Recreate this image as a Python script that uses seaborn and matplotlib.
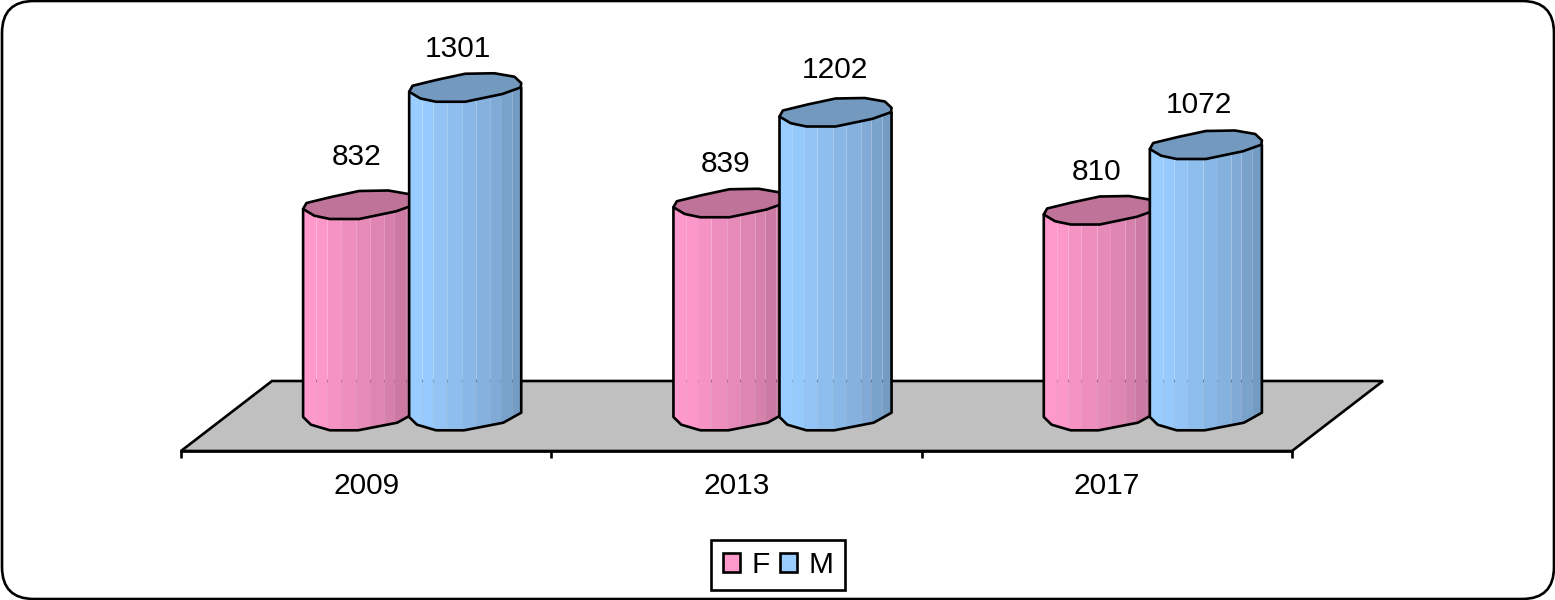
import matplotlib
matplotlib.use("Agg")
import matplotlib.pyplot as plt
import numpy as np
import pandas as pd
import seaborn as sns
from matplotlib.patches import FancyBboxPatch, Patch, Polygon, Rectangle

# Data
years = ["2009", "2013", "2017"]
f_values = [832, 839, 810]
m_values = [1301, 1202, 1072]
# the value labels were moved by hand in the original
label_lift = [[52, 43, 42], [43, 46, 44]]
label_shift = [[-1, -2, -2], [-9, -2, -8]]

df = pd.DataFrame({
    "year": years * 2,
    "sex": ["F"] * 3 + ["M"] * 3,
    "count": f_values + m_values,
})

W, H = 1555, 600
sns.set_theme(style="white")
plt.rcParams["font.family"] = ["Liberation Sans", "DejaVu Sans"]
FS = 21.5
LW = 1.9

fig = plt.figure(figsize=(W / 100, H / 100), dpi=100, facecolor="white")


def px_axes(x0, y_top, x1, y_bottom, zorder):
    a = fig.add_axes([x0 / W, 1 - y_bottom / H, (x1 - x0) / W, (y_bottom - y_top) / H], zorder=zorder)
    a.patch.set_alpha(0)
    return a


# Frame and grey floor, in pixel coordinates
bg = px_axes(0, 0, W, H, 0)
bg.set_xlim(0, W)
bg.set_ylim(H, 0)
bg.axis("off")
bg.add_patch(FancyBboxPatch((34, 33), W - 67, H - 66, boxstyle="round,pad=32,rounding_size=32",
                            fc="white", ec="black", lw=LW, clip_on=False))
bg.add_patch(Polygon([(181, 451), (272, 381), (1383, 381), (1292, 451)], closed=True,
                     fc="#C0C0C0", ec="black", lw=LW, joinstyle="miter"))

# Category axis along the front of the floor
cat = px_axes(181, 300, 1292, 451, 1)
cat.set_xlim(-0.5, 2.5)
cat.set_xticks(range(3), years, fontsize=FS, color="black")
cat.set_xticks([-0.5, 0.5, 1.5, 2.5], minor=True)
cat.tick_params(axis="x", which="major", length=0, pad=15)
cat.tick_params(axis="x", which="minor", length=5, width=LW, color="black", bottom=True)
cat.set_yticks([])
sns.despine(ax=cat, left=True)
cat.spines["bottom"].set_linewidth(LW)
cat.spines["bottom"].set_color("black")

# Bars: the back plane sits half a floor depth to the right of the axis
ax = px_axes(227, 17, 1338, 417, 2)
sns.barplot(data=df, x="year", y="count", hue="sex", palette=["#FF99CC", "#99CCFF"],
            width=0.589, gap=0, saturation=1, legend=False, ax=ax)
ax.set_xlim(-0.5, 2.5)
ax.set_ylim(0, 1600)
ax.axis("off")
fig.canvas.draw()

x_px = ax.transData.transform((1, 0))[0] - ax.transData.transform((0, 0))[0]
y_px = ax.transData.transform((0, 1))[1] - ax.transData.transform((0, 0))[1]

# Cylinder outline, x as share of the width, y as pixels from the left edge
top_x = np.array([0, .03, .25, .50, .76, .94, 1, .995, .83, .50, .24, .10, 0])
top_y = np.array([0, -6, -12, -18, -18.5, -15, -8.7, -4.3, 2.3, 10, 10, 6.7, 0])
base_x = np.array([0, .07, .24, .49, .84, 1])
base_y = np.array([0, 7.7, 13.3, 13.3, 5.7, -4.3])
band_edges = [0, .12, .22, .34, .48, .60, .73, .82, .92, 1]
band_shade = [1.0, .99, .96, .93, .90, .87, .84, .80, .76]
GAP_PX = 0.1

for s, bars in enumerate(ax.containers):
    for i, bar in enumerate(bars):
        value = bar.get_height()
        base_color = np.array(bar.get_facecolor()[:3])
        bar.set_visible(False)
        z = 3 + s * 3

        # F runs a little behind M
        pad = 3 / x_px
        x0 = bar.get_x() - (pad if s == 1 else 0)
        w = bar.get_width() + pad

        outline = [(x0, value), (x0, 0)]
        outline += [(x0 + w * a, -b / y_px) for a, b in zip(base_x, base_y)]
        outline += [(x0 + w, value + 4.3 / y_px)]
        body = Polygon(outline, closed=True, fc="none", ec="none", transform=ax.transData)
        ax.add_patch(body)

        for k in range(len(band_shade)):
            gap = GAP_PX / x_px
            strip = Rectangle((x0 + w * band_edges[k], -30 / y_px),
                              w * (band_edges[k + 1] - band_edges[k]) - gap, value + 60 / y_px,
                              fc=base_color * band_shade[k], ec="none", zorder=z)
            ax.add_patch(strip)
            strip.set_snap(False)
            strip.set_clip_box(None)
            strip.set_clip_path(body)

        ax.add_patch(Polygon(outline, closed=True, fc="none", ec="black", lw=LW, zorder=z + 1,
                             joinstyle="round", clip_on=False))
        top = [(x0 + w * a, value - b / y_px) for a, b in zip(top_x, top_y)]
        ax.add_patch(Polygon(top, closed=True, fc=base_color * 0.75, ec="black", lw=LW, zorder=z + 2,
                             joinstyle="round", clip_on=False))

        ax.annotate(f"{value:.0f}", (bar.get_x() + bar.get_width() / 2, value),
                    xytext=(label_shift[s][i] * 0.72, label_lift[s][i] * 0.72), textcoords="offset points",
                    ha="center", va="center", fontsize=FS, color="black", zorder=20, annotation_clip=False)

# Legend
handles = [Patch(fc="#FF99CC", ec="black", lw=LW, label="F"), Patch(fc="#99CCFF", ec="black", lw=LW, label="M")]
leg = ax.legend(handles=handles, loc="center", bbox_to_anchor=(778 / W, 1 - 565 / H),
                bbox_transform=fig.transFigure, ncols=2, fontsize=FS, frameon=True, fancybox=False,
                edgecolor="black", facecolor="white", framealpha=1, handlelength=0.58, handleheight=0.58,
                handletextpad=0.38, columnspacing=0.33, borderpad=0.38, labelcolor="black", borderaxespad=0)
leg.get_frame().set_linewidth(LW)
leg.set_zorder(30)

fig.savefig("out.png", dpi=100, facecolor="white")
